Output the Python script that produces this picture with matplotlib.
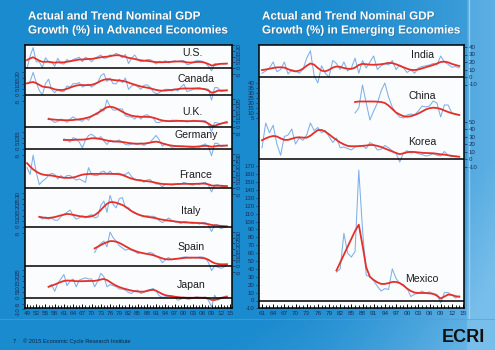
import numpy as np
import matplotlib
matplotlib.use("Agg")
import matplotlib.pyplot as plt
from matplotlib import patheffects as pe

# ---------------- data ----------------
adv_title = ["Actual and Trend Nominal GDP", "Growth (%) in Advanced Economies"]
emg_title = ["Actual and Trend Nominal GDP", "Growth (%) in Emerging Economies"]

us_start = 1949
us_actual = [-0.5, 10.5, 18, 5.5, 5.5, 0.5, 9, 5.5, 5.5, 1.5,
             8.5, 4, 3.5, 7.5, 5.5, 7.5, 8.5, 9.5, 5.5, 9.5,
             8, 5.5, 8.5, 10, 11.5, 8.5, 9, 11.5, 11, 13,
             11.5, 9, 12, 4, 8.5, 11.5, 7.5, 5.5, 6, 7.5,
             7.5, 5.5, 3.5, 6, 5, 6.5, 4.5, 5.5, 6.5, 5.5,
             6.5, 6.5, 3, 3.5, 5, 6.5, 6.5, 6, 4.5, 1.5,
             -2.5, 4, 3.5, 4, 3.5, 4]
us_trend = [7, 8.5, 9.5, 8, 6.5, 5.5, 5.5, 5.5, 5, 4.8,
            5, 5, 5, 5.5, 6, 6.5, 7, 7.5, 7.5, 7.8,
            8, 8, 8.5, 9, 9.5, 9.8, 10, 10.5, 11, 11.3,
            11.2, 10.5, 9.8, 9, 8.5, 8, 7.3, 6.8, 6.5, 6.3,
            6, 5.6, 5.2, 5.1, 5.1, 5.2, 5.3, 5.5, 5.7, 5.8,
            5.8, 5.5, 5, 4.8, 5, 5.3, 5.4, 5.2, 4.6, 3.5,
            2.2, 2.6, 3.3, 3.7, 3.8, 3.9]

ca_start = 1949
ca_actual = [10, 12, 20, 11, 4, 0, 10, 14, 5, 2,
             5, 3, 3, 8, 7, 10, 10, 11, 7, 8.5,
             9.5, 7, 9, 11, 17, 19, 12, 15, 10, 10,
             14, 11, 15, 5, 8, 9, 7.5, 5, 8.5, 9,
             7, 3, 1, 2, 4, 5, 5, 3.5, 5.5, 3.5,
             7, 9.5, 3, 4, 5, 6, 6.5, 5.5, 5.5, 5,
             -4.5, 6.5, 6.5, 3, 3.5, 4.5]
ca_trend = [10.3, 11, 11.5, 10.5, 9, 7.5, 7, 6.8, 6, 5,
            4.6, 4.4, 4.6, 5.5, 6.5, 7.5, 8.3, 8.8, 8.8, 8.7,
            8.8, 9, 9.8, 11, 12.5, 13.5, 14, 13.8, 13.3, 13,
            12.8, 12.5, 12, 11, 10, 9.2, 8.3, 7.6, 7, 6.5,
            6, 5.2, 4.5, 4, 3.8, 4, 4.3, 4.5, 4.8, 5.2,
            5.6, 5.8, 5.8, 5.7, 5.8, 5.8, 5.7, 5.5, 5, 4,
            2, 2.5, 3.8, 4, 4, 4.1]

uk_start = 1956
uk_actual = [8, 6, 4, 5, 7, 6, 4, 7, 9, 7,
             6, 5, 8, 6, 10, 11, 11, 16, 14, 24,
             18, 15, 15, 16, 16, 10, 9, 9, 7, 10,
             7, 10, 11, 9, 8, 4, 4, 5, 5.5, 5,
             6, 6, 6, 5, 5, 4.5, 5, 6, 5.5, 5,
             5.5, 5.5, 2, -4, 4, 3.5, 2.5, 4, 5]
uk_trend = [7, 6.8, 6.5, 6.3, 6.2, 6, 6, 6, 6.2, 6.5,
            6.8, 7.2, 7.8, 8.5, 9.5, 11, 12.5, 14, 16, 17.5,
            18, 17.5, 16.5, 15, 13.5, 12, 11, 10, 9.5, 9.2,
            9, 9, 9, 8.8, 8.3, 7.5, 6.5, 5.8, 5.4, 5.2,
            5.2, 5.3, 5.4, 5.4, 5.3, 5.2, 5.2, 5.3, 5.3, 5.2,
            5, 4.5, 3, 1.2, 1, 2, 3, 3.6, 4]

de_start = 1961
de_actual = [9, 8, 6, 10, 9, 6, 1, 8, 12, 13,
             11, 9, 11, 7, 4, 8, 6, 7, 8, 6,
             4, 3.5, 4.5, 4.5, 4, 5.5, 3, 5, 6, 9,
             12, 8, 2.5, 4.5, 3.5, 1.5, 2, 2.5, 2.5, 2.5,
             2, 1.5, 1, 2, 1.5, 3.5, 4.5, 2, -6, 5,
             5, 2, 2.5, 3.5]
de_trend = [8, 8, 8, 8, 8.2, 8.3, 8.3, 8.5, 9, 9.5,
            9.5, 9.2, 8.8, 8.2, 7.5, 7, 6.8, 6.6, 6.5, 6.2,
            5.8, 5.3, 5, 4.8, 4.7, 4.7, 4.8, 5.1, 5.6, 6.2,
            6.5, 6, 5, 4.2, 3.5, 3, 2.7, 2.5, 2.4, 2.3,
            2.2, 2.1, 2, 2.1, 2.3, 2.6, 2.8, 2.6, 2, 2.4,
            2.8, 2.9, 3, 3]

fr_start = 1949
fr_actual = [18, 12, 29, 14, 3, 6, 8, 11, 13, 12,
             8, 11, 9, 11, 11, 9, 7, 8, 6.5, 5,
             18, 12, 11, 11, 14, 15, 12, 15, 12, 13,
             13, 12, 12, 14, 10, 8, 7, 7.5, 5, 7,
             7.5, 5, 3.5, 3.5, 1, 3.5, 3.5, 2.5, 3, 4,
             3.5, 5, 4, 3, 2.5, 4, 3, 4.5, 5, 2.5,
             -3.5, 2.5, 3, 1.5, 1, 1]
fr_trend = [22, 19, 16.5, 14.5, 13, 12, 11.5, 11.3, 11, 10.5,
            10, 9.5, 9, 9, 9, 9.3, 10, 11, 11.8, 12.2,
            12.4, 12.5, 12.5, 12.5, 12.5, 12.6, 12.6, 12.5, 12.5, 12.4,
            12.2, 11.5, 10.5, 9.3, 8.3, 7.5, 7, 6.6, 6.3, 6,
            5.7, 5.2, 4.6, 4, 3.6, 3.4, 3.3, 3.3, 3.4, 3.5,
            3.6, 3.7, 3.7, 3.6, 3.6, 3.7, 3.8, 3.9, 3.8, 3.2,
            2.2, 2, 2.1, 2, 1.8, 1.7]

it_start = 1953
it_actual = [9, 7, 9, 7, 8, 6, 6, 9, 11, 13,
             15, 10, 7, 8, 10, 8, 10, 11, 8, 9,
             19, 23, 13, 28, 20, 17, 25, 26, 17, 17,
             14, 13, 11, 10, 9, 10, 9.5, 9.5, 8.5, 5.5,
             4, 5.5, 8, 6, 4.5, 4.5, 3, 5, 4.5, 3.5,
             3, 4, 2.5, 4, 4, 1.5, -4, 2, 2, -1.5,
             -0.5, 0.5]
it_trend = [9, 8.5, 8, 8, 8.3, 8.8, 9.5, 10.3, 11, 11.5,
            11.3, 10.8, 10.2, 9.6, 9.2, 9, 9, 9.5, 10.5, 12.5,
            15, 18, 20.5, 22, 22, 21.5, 20.5, 19.5, 18, 16,
            14, 12.5, 11.3, 10.3, 9.6, 9, 8.6, 8.2, 7.6, 7,
            6.5, 6, 5.7, 5.3, 5, 4.6, 4.3, 4.1, 4, 3.9,
            3.8, 3.6, 3.5, 3.3, 3, 2.5, 1.8, 1.5, 1.3, 1,
            0.8, 0.6]

es_start = 1971
es_actual = [12, 17, 20, 22, 17, 30, 25, 22, 18, 16,
             14, 15, 14, 13, 11, 12, 11, 11, 12, 11,
             8.5, 7, 3, 5.5, 7.5, 5.5, 6, 6.5, 7, 8,
             8, 7, 7.5, 7, 8, 8, 7, 3, -4, 0,
             -1, -2, -1, 1]
es_trend = [15.6, 17, 18.5, 20, 21, 22, 22, 21.5, 20.5, 19,
            17.5, 16, 14.5, 13.5, 12.5, 11.8, 11.2, 10.7, 10.2, 9.6,
            8.7, 7.7, 6.7, 6, 5.8, 5.9, 6.2, 6.5, 6.8, 7.1,
            7.3, 7.4, 7.4, 7.4, 7.3, 7.1, 6.6, 5.5, 3.8, 2.5,
            1.8, 1.5, 1.5, 1.6]

jp_start = 1956
jp_actual = [10, 12, 6, 13, 17, 21, 11, 15, 17, 10,
             16, 17, 18, 17, 17, 10, 15, 22, 19, 10,
             12, 11, 10, 8, 8, 7, 5, 4, 6.5, 7,
             4, 5, 7, 7.5, 8.5, 6, 2, 0.5, 1, 1.5,
             2, 1, -2, -1, 1, -1, -1, 0, 1, 0.5,
             0.5, 1, -2, -8, 2.5, -2, 0.5, 1, 2]
jp_trend = [10, 11, 12, 13.2, 14.3, 15.2, 15.6, 15.5, 15.3, 15,
            15, 15, 15.1, 15.2, 15.2, 15.3, 15.8, 16.5, 17, 16,
            14.3, 12.5, 11, 9.8, 8.8, 8, 7.3, 6.6, 6.1, 5.8,
            5.6, 5.7, 6.2, 7, 7.3, 6.5, 5, 3.5, 2.5, 2,
            1.6, 1.2, 0.8, 0.5, 0.3, 0.2, 0.2, 0.2, 0.3, 0.3,
            0.2, 0, -0.5, -1.7, -1.8, -1, -0.2, 0.5, 1]

in_start = 1961
in_actual = [5, 8, 12, 20, 7, 10, 20, 4, 10, 8,
             5, 10, 25, 35, 2, -8, 15, 5, 0, 22,
             18, 10, 20, 8, 12, 25, 5, 22, 12, 20,
             28, 10, 15, 18, 16, 22, 10, 16, 12, 6,
             10, 5, 12, 14, 15, 16, 18, 16, 28, 20,
             17, 13, 14, 12]
in_trend = [9.3, 10, 11, 12, 12.8, 13, 12.5, 10.5, 8.5, 7.5,
            8.5, 11, 15, 18, 16.5, 12, 8.5, 7.5, 9.5, 12.5,
            14, 13.5, 12, 11, 10.8, 12.5, 16, 17.5, 17, 16.5,
            16.3, 16.5, 17, 17.8, 18.8, 18.5, 17, 15, 13, 11,
            9.5, 9.3, 10, 11.5, 13, 14.5, 16, 18, 20, 20.5,
            19.5, 17.5, 16, 14.7]

cn_start = 1986
cn_actual = [10, 15, 38, 20, 3, 12, 20, 32, 40, 26,
             16, 10, 6, 5, 8, 9, 8, 12, 17, 16,
             17, 22, 20, 6, 18, 18, 10, 9, 8]
cn_trend = [21, 21.5, 21.5, 21.5, 21.5, 21.5, 21.3, 21, 20, 17.5,
            14, 10.5, 8.5, 6.8, 6.3, 6.8, 8, 9.5, 11.5, 13.5,
            14.8, 15.3, 15, 14, 12.5, 11, 9.8, 8.8, 8]

kr_start = 1961
kr_actual = [15, 48, 35, 45, 20, 5, 30, 32, 40, 20,
             28, 25, 32, 48, 38, 42, 35, 38, 30, 22,
             28, 15, 16, 14, 12, 16, 17, 18, 14, 22,
             19, 12, 13, 18, 15, 11, 8, -4, 8, 11,
             8, 9, 7, 6, 4, 5, 7, 5, 4, 10,
             5, 3, 4, 3]
kr_trend = [25, 27.5, 29.5, 30.7, 30, 27.5, 25.5, 25.5, 27, 28.5,
            29, 28.5, 28.5, 31, 35, 38.5, 38.7, 36.5, 33, 29,
            25.5, 22, 19.5, 17.5, 17, 17, 17.2, 17.5, 18, 18.7,
            18.5, 17.5, 16, 14, 12, 10, 8, 6.5, 7.5, 9,
            9.5, 9.3, 8.8, 8.3, 8, 7.8, 7.6, 7, 6.2, 5.8,
            5, 4.2, 3.5, 3]

mx_start = 1981
mx_actual = [36, 40, 85, 60, 55, 62, 165, 90, 32, 30,
             25, 18, 12, 15, 14, 40, 28, 22, 20, 15,
             5, 8, 9, 12, 9, 11, 8, 8, -3, 10,
             10, 7, 3, 6]
mx_trend = [38, 48, 58, 68, 78, 88, 96, 70, 42, 30,
            26, 23, 21, 21, 22, 23.5, 23.5, 22, 19, 15,
            12, 10, 9.5, 9.5, 9.5, 9, 8.5, 6, 2.5, 5,
            7.5, 7, 5.5, 4.7]

adv_names = ["U.S.", "Canada", "U.K.", "Germany", "France", "Italy", "Spain", "Japan"]
emg_names = ["India", "China", "Korea", "Mexico"]
adv_ticks_years = list(range(1949, 2016, 3))
emg_ticks_years = list(range(1961, 2016, 3))
footer_text = "\u00a9 2015 Economic Cycle Research Institute"
page_no = "7"
logo_text = "ECRI"

# ---------------- layout ----------------
W, H = 495, 350
fig = plt.figure(figsize=(W / 100, H / 100), dpi=100)
NAVY = "#17305a"
BLUE = "#7eb0e8"
RED = "#e5302a"
FONT = "Liberation Sans"


def rect(x0, y0, x1, y1):
    return [x0 / W, 1 - y1 / H, (x1 - x0) / W, (y1 - y0) / H]


def fx(x):
    return x / W


def fy(y):
    return 1 - y / H


# background gradient
bg = fig.add_axes([0, 0, 1, 1], zorder=-10)
X, Y = np.meshgrid(np.linspace(0, 1, W), np.linspace(0, 1, H))
base = np.array([27, 139, 207]) / 255
light = np.array([120, 190, 235]) / 255
t = np.clip((X - 0.6) / 0.4, 0, 1) ** 1.6 * 0.45 + np.clip((X + Y - 1.45) / 0.5, 0, 1) * 0.45
t = t + np.where(X > 0.944, 0.25, 0.0)
t = np.clip(t, 0, 1)
img = base + (light - base) * t[..., None]
bg.imshow(img, extent=[0, W, H, 0], aspect="auto")
bg.plot([469, 469], [0, 318], color="#a9d6f3", lw=1.0, alpha=0.8)
bg.plot([0, 495], [319, 319], color="#4aa3dc", lw=0.8, alpha=0.6)
bg.set_xlim(0, W)
bg.set_ylim(H, 0)
bg.axis("off")

TOP, BOT = 45, 308
EXT_TOP, EXT_BOT = 38, 314


def make_frame(x0, x1, xmin, xmax, major):
    ax = fig.add_axes(rect(x0, TOP, x1, BOT), zorder=1)
    ax.set_facecolor("#fbfcfe")
    ax.set_xlim(xmin, xmax)
    ax.set_ylim(0, 1)
    ax.set_yticks([])
    ax.set_xticks(major)
    ax.set_xticklabels(["%02d" % (y % 100) for y in major])
    ax.set_xticks(np.arange(int(np.ceil(xmin)), int(xmax) + 1), minor=True)
    ax.tick_params(axis="x", which="major", direction="in", length=3.2, width=0.7,
                   labelsize=4.6, labelcolor=NAVY, pad=2.5, color="black")
    ax.tick_params(axis="x", which="minor", direction="in", length=2.2, width=0.6, color="black")
    for lab in ax.get_xticklabels():
        lab.set_fontfamily(FONT)
    for s in ax.spines.values():
        s.set_linewidth(1.1)
        s.set_color("black")
    return ax


def country(x0, x1, xmin, xmax, start, actual, trend, zero_px, scale, ticks, side,
            rot, zero_line=True):
    ax = fig.add_axes(rect(x0, EXT_TOP, x1, EXT_BOT), zorder=2)
    ax.patch.set_visible(False)
    for s in ax.spines.values():
        s.set_visible(False)
    ax.set_xlim(xmin, xmax)
    ax.set_ylim(-(EXT_BOT - zero_px) / scale, (zero_px - EXT_TOP) / scale)
    ax.set_xticks([])
    yrs_a = np.arange(start, start + len(actual))
    yrs_t = np.arange(start, start + len(trend))
    ax.plot(yrs_a, actual, color=BLUE, lw=0.75, solid_joinstyle="round")
    ax.plot(yrs_t, trend, color=RED, lw=1.3, solid_joinstyle="round")
    if zero_line:
        ax.axhline(0, color="black", lw=1.1)
    ax.set_yticks(ticks)
    ax.set_yticklabels([str(v) for v in ticks])
    if side == "right":
        ax.yaxis.tick_right()
    else:
        ax.yaxis.tick_left()
    ax.tick_params(axis="y", direction="out", length=2, width=0.5, color=NAVY,
                   labelsize=4.4, labelcolor=NAVY, pad=1.2, labelrotation=rot)
    for lab in ax.get_yticklabels():
        lab.set_fontfamily(FONT)
    return ax


# ---- left panel ----
LX0, LX1 = 25, 232
l_xmin = 1949 + (LX0 - 27) / (203 / 66)
l_xmax = 1949 + (LX1 - 27) / (203 / 66)
make_frame(LX0, LX1, l_xmin, l_xmax, adv_ticks_years)

adv_series = [
    (us_start, us_actual, us_trend, 68, 1.13, list(range(-5, 21, 5)), "right"),
    (ca_start, ca_actual, ca_trend, 95, 1.13, list(range(-5, 21, 5)), "left"),
    (uk_start, uk_actual, uk_trend, 127, 1.13, list(range(-5, 26, 5)), "right"),
    (de_start, de_actual, de_trend, 149, 1.13, list(range(-5, 16, 5)), "left"),
    (fr_start, fr_actual, fr_trend, 188, 1.13, list(range(-5, 31, 5)), "right"),
    (it_start, it_actual, it_trend, 227, 1.13, list(range(-5, 31, 5)), "left"),
    (es_start, es_actual, es_trend, 266, 1.13, list(range(-5, 31, 5)), "right"),
    (jp_start, jp_actual, jp_trend, 298, 1.12, list(range(-10, 26, 5)), "left"),
]
for s in adv_series:
    country(LX0, LX1, l_xmin, l_xmax, *s, rot=90)

adv_label_pos = [(192, 53), (196, 79), (192, 112), (196, 135.5), (196, 174.5),
                 (191, 211), (191, 246.5), (191, 285)]
for name, (x, y) in zip(adv_names, adv_label_pos):
    fig.text(fx(x), fy(y), name, ha="center", va="center", fontsize=7.6,
             color="#1c1c1c", family=FONT, zorder=5)

# ---- right panel ----
RX0, RX1 = 259, 464
r_xmin = 1961 + (RX0 - 262) / (201 / 54)
r_xmax = 1961 + (RX1 - 262) / (201 / 54)
make_frame(RX0, RX1, r_xmin, r_xmax, emg_ticks_years)

emg_series = [
    (in_start, in_actual, in_trend, 77, 0.75, list(range(-10, 41, 10)), "right", True),
    (cn_start, cn_actual, cn_trend, 123, 1.0, list(range(5, 41, 5)), "left", False),
    (kr_start, kr_actual, kr_trend, 159, 0.75, list(range(-10, 51, 10)), "right", True),
    (mx_start, mx_actual, mx_trend, 300.5, 0.79, list(range(-10, 171, 10)), "left", True),
]
for (st, a, tr, z, sc, tk, side, zl) in emg_series:
    country(RX0, RX1, r_xmin, r_xmax, st, a, tr, z, sc, tk, side, rot=0, zero_line=zl)

emg_label_pos = [(423, 54.5), (422, 96), (422, 142), (422, 278.5)]
for name, (x, y) in zip(emg_names, emg_label_pos):
    fig.text(fx(x), fy(y), name, ha="center", va="center", fontsize=7.6,
             color="#1c1c1c", family=FONT, zorder=5)

# ---- titles ----
shadow = [pe.SimplePatchShadow(offset=(0.6, -0.6), alpha=0.35), pe.Normal()]
for x0, lines in ((28, adv_title), (262, emg_title)):
    for i, line in enumerate(lines):
        fig.text(fx(x0), fy(19.5 + 14 * i), line, ha="left", va="baseline",
                 fontsize=8.4, fontweight="bold", color="white", family=FONT,
                 path_effects=shadow)

# ---- footer ----
fig.text(fx(13), fy(343), page_no, ha="left", va="baseline", fontsize=4.2,
         color="#0f2440", family=FONT)
fig.text(fx(23), fy(343), footer_text, ha="left", va="baseline", fontsize=4.1,
         color="#0f2440", family=FONT)
fig.text(fx(442), fy(342.5), logo_text, ha="left", va="baseline", fontsize=13,
         fontweight="bold", color="#111111", family=FONT)

fig.savefig("out.png", dpi=100)
